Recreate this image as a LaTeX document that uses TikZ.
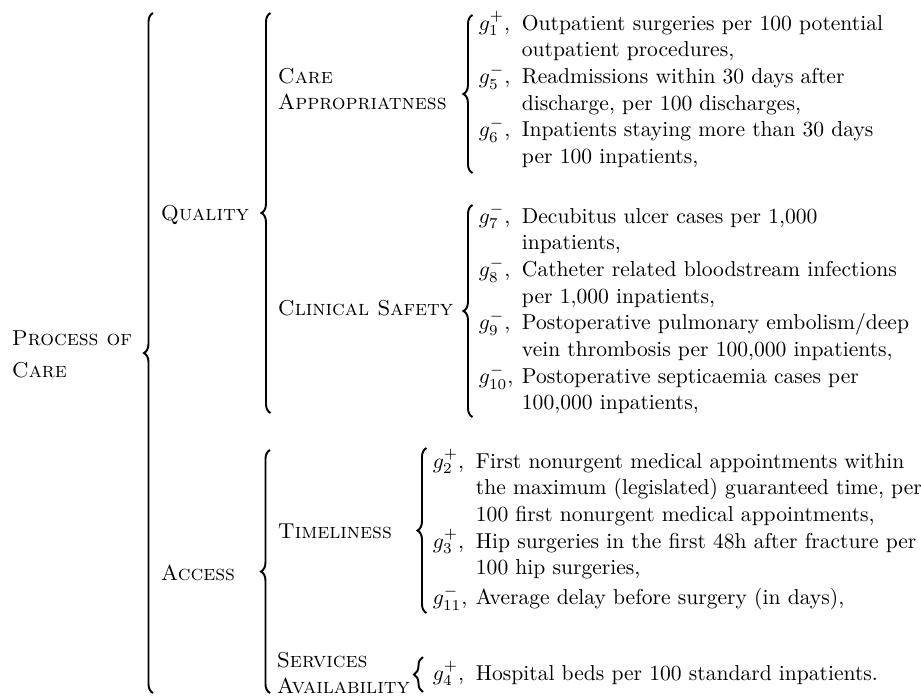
\documentclass[tikz,border=0pt]{standalone}
\usetikzlibrary{decorations.pathreplacing}

\renewcommand{\arraystretch}{1.032}
\tikzset{every picture/.style={line width=0.75pt}}
\tikzset{
  curly/.style={decorate,decoration={brace,amplitude=4.2pt},line width=0.9pt},
  lbl/.style={anchor=base west,inner sep=0pt},
}

\begin{document}
\begin{tikzpicture}[x=0.4637pt,y=0.4637pt,yscale=-1,xscale=1]
\useasboundingbox (0,0) rectangle (921,695);

%Braces: level 1
\coordinate (pc-b) at (153,693); \coordinate (pc-t) at (153,13);
\draw [curly] (pc-b) -- (pc-t) ;
%Braces: level 2
\coordinate (ql-b) at (270.5,413); \coordinate (ql-t) at (270.5,13);
\draw [curly] (ql-b) -- (ql-t) ;
\coordinate (ac-b) at (270,693); \coordinate (ac-t) at (270,450);
\draw [curly] (ac-b) -- (ac-t) ;
%Braces: level 3
\coordinate (ca-b) at (472.5,173); \coordinate (ca-t) at (472.5,15);
\draw [curly] (ca-b) -- (ca-t) ;
\coordinate (cs-b) at (472.5,417); \coordinate (cs-t) at (472.5,205);
\draw [curly] (cs-b) -- (cs-t) ;
\coordinate (tl-b) at (426.5,613); \coordinate (tl-t) at (426.5,448);
\draw [curly] (tl-b) -- (tl-t) ;
\coordinate (sa-b) at (423,692); \coordinate (sa-t) at (423,657);
\draw [curly] (sa-b) -- (sa-t) ;

% Text Node
\draw (11,345) node [lbl] (proc) {\begin{tabular}[t]{@{}l@{}}\textsc{Process of}\\[2.9pt]\textsc{Care}\end{tabular}};
% Text Node
\draw (160,220) node [lbl] (quality) {\textsc{Quality}};
% Text Node
\draw (160,580) node [lbl] (access) {\textsc{Access}};
% Text Node
\draw (277,83) node [lbl] (careapp) {\begin{tabular}[t]{@{}l@{}}\textsc{Care}\\\textsc{Appropriatness}\end{tabular}};
% Text Node
\draw (277,315) node [lbl] (clinsafe) {\textsc{Clinical Safety}};
% Text Node
\draw (277,538) node [lbl] (timeli) {\textsc{Timeliness}};
% Text Node
\draw (276,667) node [lbl] (servav) {\begin{tabular}[t]{@{}l@{}}\textsc{Services}\\\textsc{Availability}\end{tabular}};

% Text Node
\draw (478,30) node [lbl] (ind-ca) {\begin{tabular}[t]{@{}p{20pt}@{}l@{}}
$g_1^+$, & Outpatient surgeries per 100 potential\\
 & outpatient procedures,\\
$g_5^-$, & Readmissions within 30 days after\\
 & discharge, per 100 discharges,\\
$g_6^-$, & Inpatients staying more than 30 days\\
 & per 100 inpatients,
\end{tabular}};
% Text Node
\draw (478,223) node [lbl] (ind-cs) {\begin{tabular}[t]{@{}p{20pt}@{}l@{}}
$g_7^-$, & Decubitus ulcer cases per 1,000\\
 & inpatients,\\
$g_8^-$, & Catheter related bloodstream infections\\
 & per 1,000 inpatients,\\
$g_9^-$, & Postoperative pulmonary embolism/deep\\
 & vein thrombosis per 100,000 inpatients,\\
$g_{10}^-$, & Postoperative septicaemia cases per\\
 & 100,000 inpatients,
\end{tabular}};
% Text Node
\draw (432,468) node [lbl] (ind-tl) {\begin{tabular}[t]{@{}p{20pt}@{}l@{}}
$g_2^+$, & First nonurgent medical appointments within\\
 & the maximum (legislated) guaranteed time, per\\
 & 100 first nonurgent medical appointments,\\
$g_3^+$, & Hip surgeries in the first 48h after fracture per\\
 & 100 hip surgeries,\\[1.5pt]
$g_{11}^-$, & Average delay before surgery (in days),
\end{tabular}};
% Text Node
\draw (432,680) node [lbl] (ind-sa) {\begin{tabular}[t]{@{}p{20pt}@{}l@{}}
$g_4^+$, & Hospital beds per 100 standard inpatients.
\end{tabular}};

\end{tikzpicture}
\end{document}
